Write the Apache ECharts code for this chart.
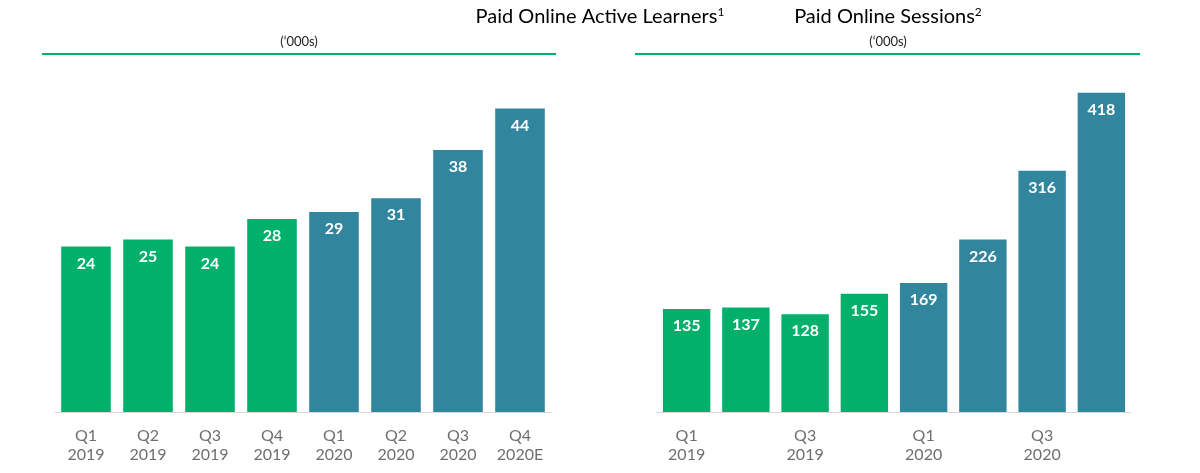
<!DOCTYPE html>
<html><head><meta charset="utf-8">
<script src="https://cdn.jsdelivr.net/npm/echarts@6/dist/echarts.min.js"></script>
<style>html,body{margin:0;background:#fff}#c{width:1200px;height:473px}</style>
</head><body><div id="c"></div>
<script>
const categories = ['Q1\n2019','Q2\n2019','Q3\n2019','Q4\n2019','Q1\n2020','Q2\n2020','Q3\n2020','Q4\n2020E'];
const learners = [24,25,24,28,29,31,38,44];
const sessions = [135,137,128,155,169,226,316,418];
const GREEN = '#00b06b', TEAL = '#31869e';
const colorFor = i => i < 4 ? GREEN : TEAL;
const mk = arr => arr.map((v,i)=>({value:v,itemStyle:{color:colorFor(i)}}));
const chart = echarts.init(document.getElementById('c'));
const xa = gi => ({type:'category',gridIndex:gi,data:categories,
  axisLine:{lineStyle:{color:'#d9d9d9',width:1}},axisTick:{show:false},
  axisLabel:{color:'#6f6f6f',fontSize:16,fontFamily:'Lato',lineHeight:19,margin:14}});
const ya = (gi,max) => ({type:'value',gridIndex:gi,min:0,max:max,show:false,splitLine:{show:false}});
const ser = (gi,data) => ({type:'bar',xAxisIndex:gi,yAxisIndex:gi,data:mk(data),barCategoryGap:'20%',
  label:{show:true,position:'insideTop',distance:9,color:'#fff',fontSize:16,fontWeight:'bold',fontFamily:'Lato'}});
const titleRich = {t:{fontSize:20,color:'#222',fontFamily:'Lato'},s:{fontSize:12,color:'#222',fontFamily:'Lato',verticalAlign:'top',padding:[0,0,10,0]}};
chart.setOption({
  animation:false,
  grid:[{left:55,width:496,top:81,bottom:61},{left:657,width:474,top:76,bottom:61}],
  xAxis:[xa(0),xa(1)],
  yAxis:[ya(0,48),ya(1,440)],
  series:[ser(0,learners),ser(1,sessions)],
  graphic:[
    {type:'text',left:'center',x:0,style:{text:'{t|Paid Online Active Learners}{s|1}',rich:titleRich,x:299,y:6,align:'center'}},
    {type:'text',style:{text:"(‘000s)",x:299,y:35,align:'center',fontSize:13,fill:'#222',fontFamily:'Lato'}},
    {type:'line',shape:{x1:42,y1:54,x2:556,y2:54},style:{stroke:GREEN,lineWidth:2}},
    {type:'text',style:{text:'{t|Paid Online Sessions}{s|2}',rich:titleRich,x:888,y:6,align:'center'}},
    {type:'text',style:{text:"(‘000s)",x:888,y:35,align:'center',fontSize:13,fill:'#222',fontFamily:'Lato'}},
    {type:'line',shape:{x1:635,y1:54,x2:1140,y2:54},style:{stroke:GREEN,lineWidth:2}}
  ]
});
</script></body></html>
